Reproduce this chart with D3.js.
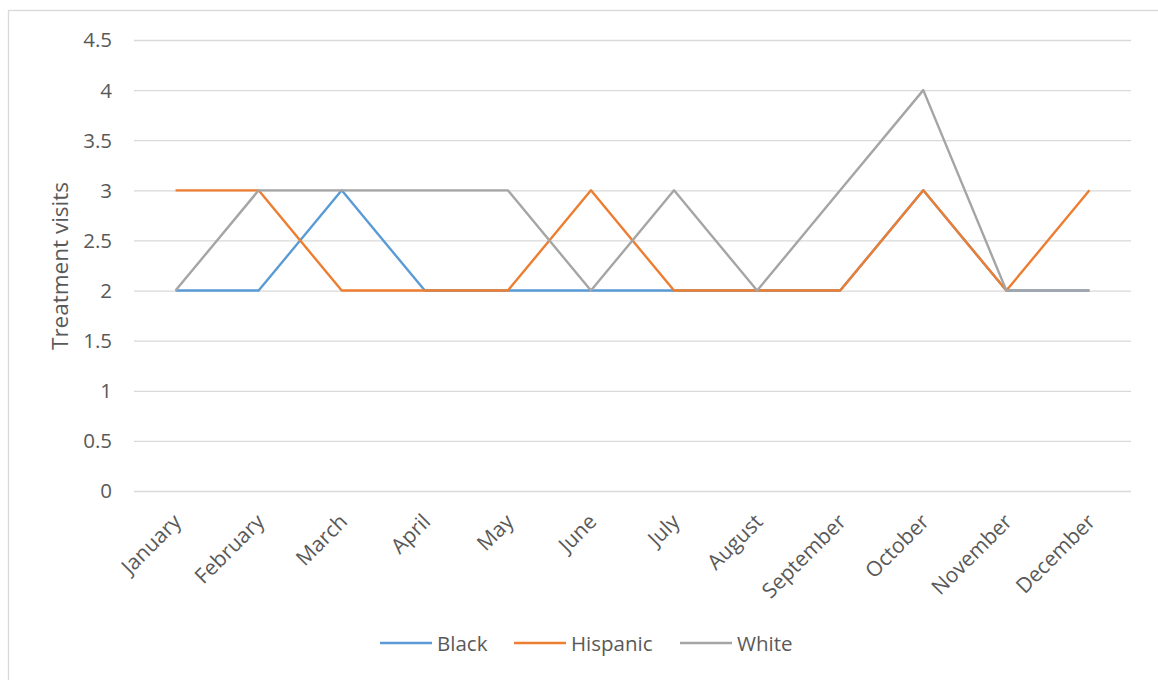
<!DOCTYPE html>
<html>
<head>
<meta charset="utf-8">
<script src="https://cdn.jsdelivr.net/npm/d3@7"></script>
<style>
  html, body { margin: 0; padding: 0; background: #ffffff; }
  svg { display: block; font-family: "Open Sans", "Noto Sans", sans-serif; }
</style>
</head>
<body>
<svg id="chart" width="1158" height="680"></svg>
<script>
// Monthly treatment visits by group
const months = ["January", "February", "March", "April", "May", "June",
                "July", "August", "September", "October", "November", "December"];
const black    = [2, 2, 3, 2, 2, 2, 2, 2, 2, 3, 2, 2];
const hispanic = [3, 3, 2, 2, 2, 3, 2, 2, 2, 3, 2, 3];
const white    = [2, 3, 3, 3, 3, 2, 3, 2, 3, 4, 2, 2];
const yTicks   = [0, 0.5, 1, 1.5, 2, 2.5, 3, 3.5, 4, 4.5];

const seriesList = [
  { name: "Black",    values: black,    color: "#5b9bd5" },
  { name: "Hispanic", values: hispanic, color: "#ed7d31" },
  { name: "White",    values: white,    color: "#a5a5a5" }
];

const svg = d3.select("#chart");
const textColor = "#595959";
const font = "Open Sans";

// outer chart frame
svg.append("rect")
  .attr("x", 8.5).attr("y", 10.5)
  .attr("width", 1200).attr("height", 700)
  .attr("fill", "#ffffff")
  .attr("stroke", "#d9d9d9").attr("stroke-width", 1.3);

const plot = { left: 134, right: 1131, top: 40, bottom: 491 };

const x = d3.scaleBand().domain(months).range([plot.left, plot.right]);
const y = d3.scaleLinear().domain([0, 4.5]).range([plot.bottom, plot.top]);

// horizontal gridlines + y labels
const yAxis = d3.axisLeft(y).tickValues(yTicks).tickSize(plot.left - plot.right)
  .tickFormat(d3.format("~g")).tickPadding(22);
const yg = svg.append("g").attr("transform", `translate(${plot.left},0)`).call(yAxis);
yg.select(".domain").remove();
yg.attr("font-family", font).attr("font-size", 20.5);
yg.selectAll(".tick line").attr("stroke", "#d9d9d9").attr("stroke-width", 1.3)
  .attr("x1", 0).attr("x2", plot.right - plot.left);
yg.selectAll(".tick text").attr("fill", textColor).attr("x", -22).attr("dy", "0.34em");

// x labels (rotated)
const xAxis = d3.axisBottom(x).tickSize(0).tickPadding(0);
const xg = svg.append("g").attr("transform", `translate(0,${plot.bottom})`).call(xAxis);
xg.select(".domain").remove();
xg.attr("font-family", font).attr("font-size", 21);
xg.selectAll(".tick text")
  .attr("fill", textColor)
  .attr("text-anchor", "end")
  .attr("dy", 0).attr("y", 0)
  .attr("transform", "translate(7,32) rotate(-45)");

// y axis title
svg.append("text")
  .attr("transform", `translate(68,266) rotate(-90)`)
  .attr("text-anchor", "middle")
  .attr("font-family", font)
  .attr("fill", textColor).attr("font-size", 22.5)
  .text("Treatment visits");

// series lines
const line = d3.line()
  .x((d, i) => x(months[i]) + x.bandwidth() / 2)
  .y(d => y(d));

svg.append("g").selectAll("path")
  .data(seriesList)
  .join("path")
  .attr("d", s => line(s.values))
  .attr("fill", "none")
  .attr("stroke", s => s.color)
  .attr("stroke-width", 2.4)
  .attr("stroke-linejoin", "round");

// legend
const legendX = [380, 514, 680];
const legend = svg.append("g");
seriesList.forEach((s, i) => {
  const g = legend.append("g").attr("transform", `translate(${legendX[i]},643)`);
  g.append("line").attr("x1", 0).attr("x2", 52).attr("y1", 0).attr("y2", 0)
    .attr("stroke", s.color).attr("stroke-width", 2.4);
  g.append("text").attr("x", 57).attr("y", 7.5)
    .attr("font-family", font)
    .attr("fill", textColor).attr("font-size", 20.5)
    .text(s.name);
});
</script>
</body>
</html>
